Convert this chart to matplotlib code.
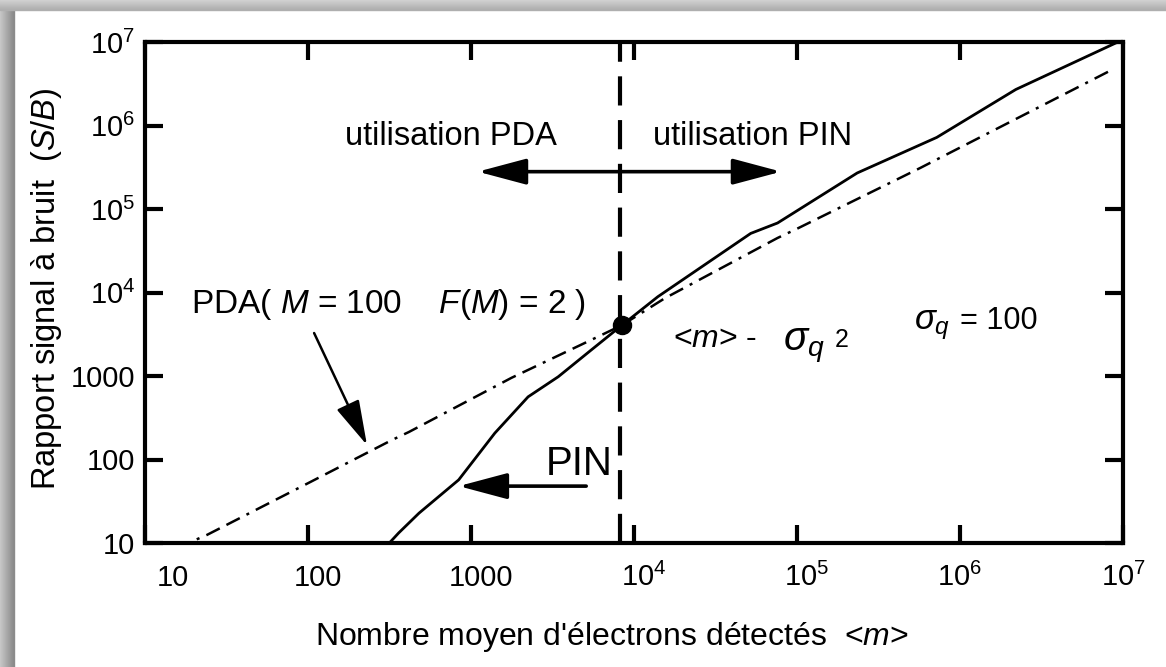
import matplotlib
matplotlib.use("Agg")
import matplotlib.pyplot as plt
import matplotlib.transforms as mtransforms
from matplotlib.patches import Rectangle

plt.rcParams['font.family'] = ['Liberation Sans', 'DejaVu Sans']
plt.rcParams['mathtext.fontset'] = 'custom'
plt.rcParams['mathtext.rm'] = 'Liberation Sans'
plt.rcParams['mathtext.it'] = 'Liberation Sans:italic'
plt.rcParams['mathtext.bf'] = 'Liberation Sans:bold'

# values
pin_m = [300, 360, 480, 840, 1400, 2240, 3430, 5450, 8450, 14000, 52000, 76000,
         234000, 720000, 2.2e6, 9.1e6, 1e7]
pin_snr = [9, 13.2, 22.8, 57, 207, 563, 980, 2040, 4070, 8900, 51000, 68000,
           270000, 720000, 2.7e6, 9.8e6, 1e7]

pda_m = [12, 15.6, 24, 100, 325, 415, 1770, 6000, 8450, 15400, 76000, 1e5,
         5.7e5, 8.1e6]
pda_snr = [6, 8.7, 12.5, 52, 170, 213, 950, 2950, 4070, 8500, 45000, 58000,
           3.1e5, 4.4e6]

cross_m, cross_snr = 8450, 4070
limit_m = 8200

x_ticks = [10, 100, 1000, 1e4, 1e5, 1e6, 1e7]
x_labels = ['10', '100', '1000', '$10^4$', '$10^5$', '$10^6$', '$10^7$']
y_ticks = [10, 100, 1000, 1e4, 1e5, 1e6, 1e7]
y_labels = ['10', '100', '1000', '$10^4$', '$10^5$', '$10^6$', '$10^7$']

fig = plt.figure(figsize=(11.66, 6.67), dpi=100)

# grey shadow on the left and top edges
W, H = 1166, 667
for i in range(14):
    g = 0.78 - 0.018 * i
    fig.patches.append(Rectangle((i / W, 0), 1 / W, 1, transform=fig.transFigure,
                                 color=(g, g, g), zorder=-5))
for j in range(10):
    g = 0.82 - 0.015 * j
    fig.patches.append(Rectangle((0, 1 - (j + 1) / H), 1, 1 / H, transform=fig.transFigure,
                                 color=(g, g, g), zorder=-5))

ax = fig.add_axes([145 / W, 1 - 543 / H, 978 / W, 501 / H])
ax.set_xscale('log')
ax.set_yscale('log')
ax.set_xlim(10, 1e7)
ax.set_ylim(10, 1e7)

ax.plot(pin_m, pin_snr, color='black', lw=2.0, solid_joinstyle='round')
ax.plot(pda_m, pda_snr, color='black', lw=1.8, linestyle=(0, (6, 3, 6, 3, 1.2, 3)))
ax.axvline(limit_m, color='black', lw=3.0, linestyle=(0, (7, 3.5)))
ax.plot([cross_m], [cross_snr], 'o', color='black', markersize=13, zorder=5)

for s in ax.spines.values():
    s.set_linewidth(3)
ax.minorticks_off()
ax.set_xticks(x_ticks, x_labels)
ax.set_yticks(y_ticks, y_labels)
ax.tick_params(direction='in', length=13, width=3, top=True, right=True,
               labelsize=21)
ax.tick_params(axis='x', pad=31)
ax.tick_params(axis='y', pad=7)
x_shift = [28, 10, 10, 10, 10, 0, 0]
for lab, dx in zip(ax.get_xticklabels(), x_shift):
    lab.set_va('baseline')
    lab.set_transform(lab.get_transform() +
                      mtransforms.ScaledTranslation(dx / 100, 0, fig.dpi_scale_trans))

ax.set_xlabel("Nombre moyen d'électrons détectés  <$m$>", fontsize=23, va='baseline')
ax.xaxis.set_label_coords(0.4775, -0.2036)
ax.set_ylabel("Rapport signal à bruit  ($S/B$)", fontsize=23.5, va='center')
ax.yaxis.set_label_coords(-0.101, 0.507)

# region arrows
arrow_kw = dict(color='black', lw=2.6, shrinkA=0, shrinkB=0, mutation_scale=20)
ax.annotate('', xy=(1100, 2.8e5), xytext=(8e4, 2.8e5),
            arrowprops=dict(arrowstyle='<|-|>,head_length=1.5,head_width=0.4', **arrow_kw))
ax.annotate('', xy=(840, 48), xytext=(5090, 48),
            arrowprops=dict(arrowstyle='-|>,head_length=1.5,head_width=0.4', **arrow_kw))
ax.annotate('', xy=(230, 149), xytext=(109, 3270),
            arrowprops=dict(arrowstyle='-|>,head_length=1.4,head_width=0.38',
                            color='black', lw=1.8, shrinkA=0, shrinkB=0, mutation_scale=20))

ax.text(750, 5.8e5, 'utilisation PDA', fontsize=23.5, ha='center', va='baseline')
ax.text(53500, 5.8e5, 'utilisation PIN', fontsize=23.5, ha='center', va='baseline')
ax.text(19.2, 5680, 'PDA( $M$ = 100    $F$($M$) = 2 )', fontsize=24, va='baseline')
ax.text(2860, 65, 'PIN', fontsize=29, va='baseline')
ax.text(17300, 2200, '<$m$> -', fontsize=23, va='baseline')
ax.text(81500, 2000, r'$\sigma_q$', fontsize=29, va='baseline')
ax.text(1.7e5, 2200, '2', fontsize=18, va='baseline')
ax.text(5.2e5, 3660, r'$\sigma_q$', fontsize=25, va='baseline')
ax.text(1e6, 3660, '= 100', fontsize=22, va='baseline')

fig.savefig('out.png', dpi=100, facecolor='white')
